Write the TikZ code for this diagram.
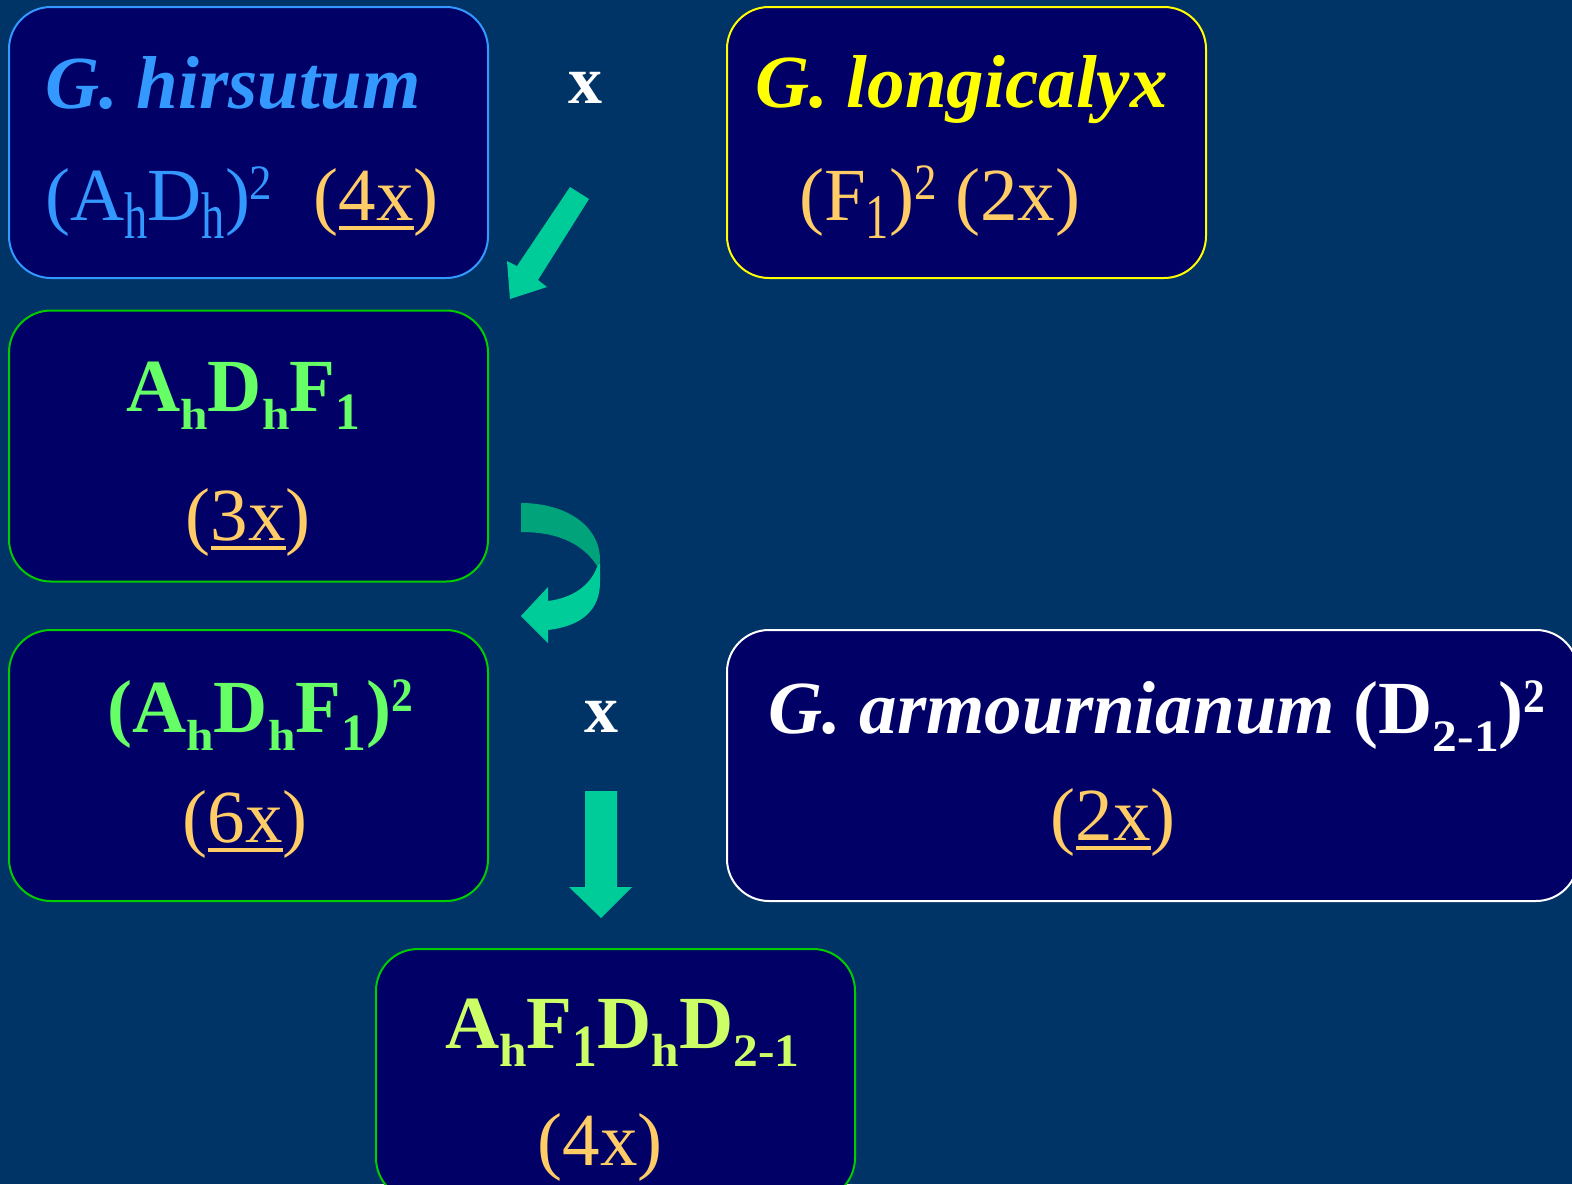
\documentclass[tikz,border=0pt]{standalone}
\usepackage{fontspec}
\setmainfont{Liberation Serif}
\usepackage{graphicx}
\definecolor{bgc}{HTML}{003366}
\definecolor{boxc}{HTML}{000066}
\definecolor{hblue}{HTML}{3399FF}
\definecolor{lyel}{HTML}{FFFF00}
\definecolor{orng}{HTML}{FFCC66}
\definecolor{lgrn}{HTML}{66FF66}
\definecolor{ygrn}{HTML}{CCFF66}
\definecolor{bgrn}{HTML}{00CC00}
\definecolor{arrc}{HTML}{00CC99}
\definecolor{arrd}{HTML}{00A37A}
\newcommand\subsc[3]{\raisebox{-0.25em}{\scalebox{#1}[#2]{#3}}}
\newcommand\supsc[3]{\raisebox{0.28em}{\scalebox{#1}[#2]{#3}}}
\newcommand\uln[1]{\setbox0\hbox{#1}\rlap{\rule[-0.13em]{\wd0}{0.05em}}\box0}
\tikzset{
  box/.style={draw, line width=2pt, fill=boxc, rounded corners=42pt, minimum width=479pt, minimum height=271pt, inner sep=0pt},
  txt/.style={inner sep=0pt, font=\fontsize{75}{80}\selectfont},
  crossx/.style={inner sep=0pt, text=white, font=\fontsize{68}{72}\selectfont\bfseries, anchor=base},
  blockarrow/.style={fill=arrc, draw=none}
}
\begin{document}
\begin{tikzpicture}[x=1pt,y=-1pt]
\fill[bgc] (0,0) rectangle (1572,1184);
\useasboundingbox (0,0) rectangle (1572,1184);
\clip (0,0) rectangle (1572,1184);
% boxes
\node[box, draw=hblue] (hir) at (248.5,142.5) {};
\node[box, draw=lyel] (lon) at (966.5,142.5) {};
\node[box, draw=bgrn] (hyb) at (248.5,446) {};
\node[box, draw=bgrn] (dbl) at (248.5,765.5) {};
\node[box, draw=white, minimum width=851pt] (arm) at (1152.5,765.5) {};
\node[box, draw=bgrn, minimum height=251pt] (fin) at (615.5,1074.5) {};
% texts
\node[txt, anchor=base west, text=hblue] (hirA) at (45,108) {\bfseries\itshape G. hirsutum};
\node[txt, anchor=base west, text=hblue] (hirB) at (45,220)
  {(A\subsc{0.62}{0.88}{h}D\subsc{0.62}{0.88}{h})\supsc{0.6}{0.66}{2}\hspace{0.55em}{\color{orng}(\uln{4x})}};
\node[txt, anchor=base west, text=lyel] (lonA) at (755,107) {\bfseries\itshape G. longicalyx};
\node[txt, anchor=base west, text=orng] (lonB) at (799,220)
  {(F\subsc{0.62}{0.85}{1})\supsc{0.6}{0.68}{2} (2x)};
\node[txt, anchor=base west, text=lgrn] (hybA) at (126,411)
  {\bfseries A\subsc{0.66}{0.58}{h}D\subsc{0.66}{0.58}{h}F\subsc{0.66}{0.7}{1}};
\node[txt, anchor=base, text=orng] (hybB) at (248,540) {(\uln{3x})};
\node[txt, anchor=base west, text=lgrn] (dblA) at (107,732)
  {\bfseries (A\subsc{0.66}{0.58}{h}D\subsc{0.66}{0.58}{h}F\subsc{0.66}{0.7}{1})\supsc{0.58}{0.64}{2}};
\node[txt, anchor=base, text=orng] (dblB) at (245,842) {(\uln{6x})};
\node[txt, anchor=base west, text=white] (armA) at (768,733)
  {\bfseries{\itshape G. armournianum} (D\subsc{0.66}{0.6}{2-1})\supsc{0.58}{0.64}{2}};
\node[txt, anchor=base, text=orng] (armB) at (1113,840) {(\uln{2x})};
\node[txt, anchor=base west, text=ygrn] (finA) at (445,1048)
  {\bfseries A\subsc{0.66}{0.62}{h}F\subsc{0.66}{0.8}{1}D\subsc{0.66}{0.62}{h}D\subsc{0.66}{0.62}{2-1}};
\node[txt, anchor=base, text=orng] (finB) at (600,1165) {(4x)};
% cross marks
\node[crossx] (x1) at (585,103) {x};
\node[crossx] (x2) at (601,732) {x};
% arrows
\fill[blockarrow] (570,187) -- (589,199) -- (538,280) -- (547,287) -- (510,299) -- (507,261) -- (517,266) -- cycle;
\fill[arrd] (521,503) .. controls (565,503) and (600,525) .. (600,560) -- (599,569)
  .. controls (585,545) and (560,532) .. (521,532) -- cycle;
\fill[blockarrow] (597,567) -- (600,563) -- (600,582) .. controls (600,610) and (582,626) .. (548,630)
  -- (548,643) -- (521,616) -- (548,587) -- (548,601) .. controls (572,598) and (590,586) .. (597,567) -- cycle;
\fill[blockarrow] (585,791) -- (617,791) -- (617,887) -- (632,887) -- (601,918) -- (569,887) -- (585,887) -- cycle;
\end{tikzpicture}
\end{document}
